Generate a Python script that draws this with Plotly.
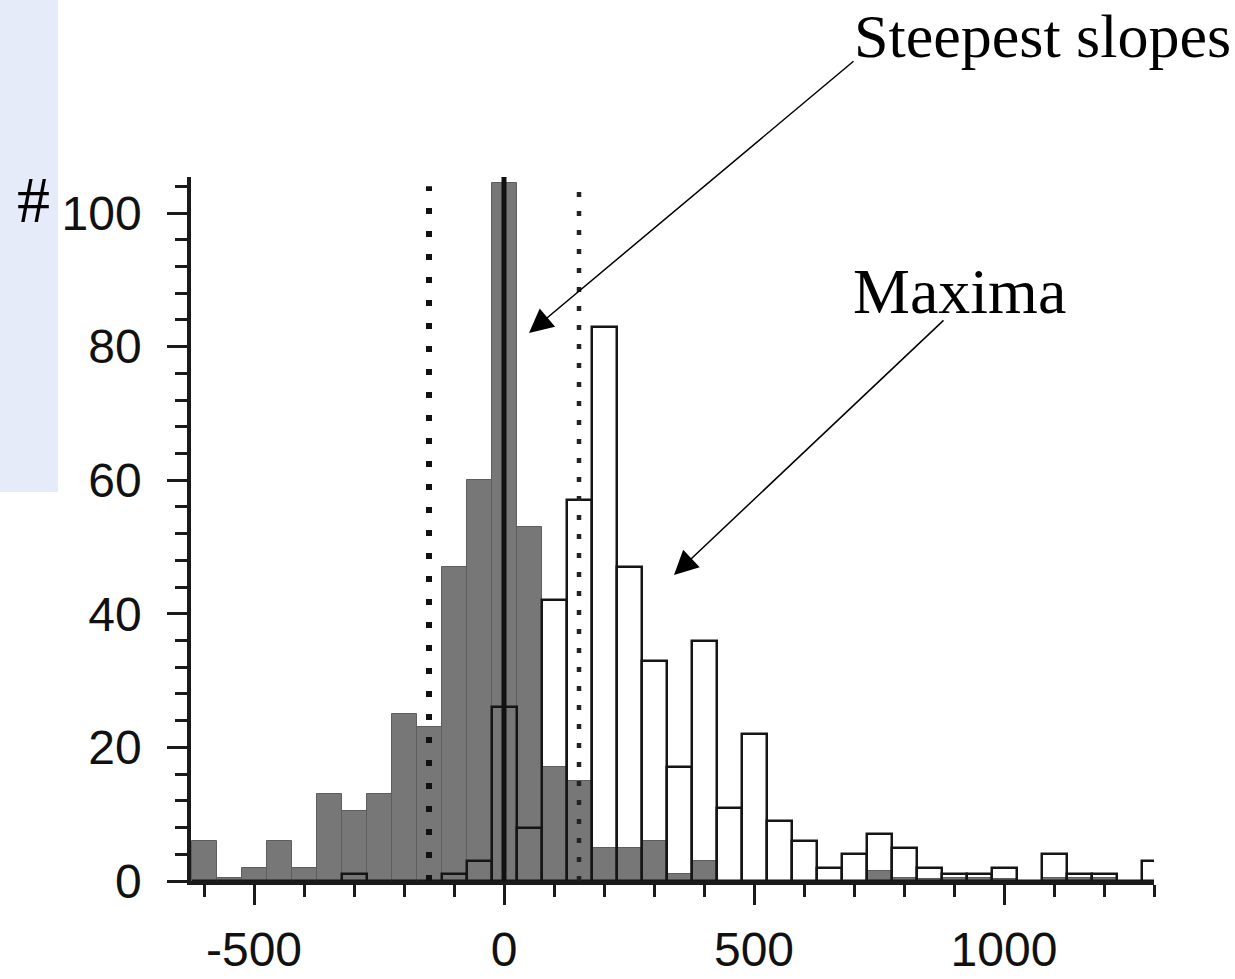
import plotly.graph_objects as go

# ---- data (bin centres, bin width 50) ----
bin_centers = list(range(-600, 1301, 50))
steepest_slopes = [6, 0.5, 2, 6, 2, 13, 10.5, 13, 25, 23, 47, 60, 104.5, 53, 17, 15,
                   5, 5, 6, 1, 3, 0, 0, 0, 0, 0, 0, 1.5, 0.5, 0.3, 0.5, 0.5, 0.3, 0,
                   0.5, 0.5, 0.5, 0, 0]
maxima = [0, 0, 0, 0, 0, 0, 1, 0, 0, 0, 1, 3, 26, 8, 42, 57,
          83, 47, 33, 17, 36, 11, 22, 9, 6, 2, 4, 7, 5, 2, 1, 1, 2, 0,
          4, 1, 1, 0, 3]
threshold_lines = [-150, 150]
centre_line = 0
x_ticks = [-500, 0, 500, 1000]
y_ticks = [0, 20, 40, 60, 80, 100]

X_RANGE = [-626, 1300]
Y_RANGE = [0, 105.4]
L, R, T, B = 191, 81, 177, 98
W, H = 1235, 979
PW, PH = W - L - R, H - T - B


def px_x(px):
    return (px - L) / PW


def px_y(py):
    return (H - B - py) / PH


def dx(px):
    return X_RANGE[0] + (px - L) / PW * (X_RANGE[1] - X_RANGE[0])


def dy(py):
    return (H - B - py) / PH * (Y_RANGE[1] - Y_RANGE[0])


fig = go.Figure()
fig.add_trace(go.Bar(x=bin_centers, y=steepest_slopes, width=50,
                     marker=dict(color="#777777", line=dict(color="#5e5e5e", width=1)),
                     name="Steepest slopes"))
fig.add_trace(go.Bar(x=bin_centers, y=maxima, width=50,
                     marker=dict(color="rgba(255,255,255,0)", line=dict(color="#151515", width=2.5)),
                     name="Maxima"))

shapes = []
# light blue panel at the left
shapes.append(dict(type="rect", xref="paper", yref="paper",
                   x0=px_x(0), x1=px_x(58), y0=px_y(492), y1=px_y(-5),
                   fillcolor="#E6EBFA", line=dict(width=0), layer="below"))
# dotted threshold lines
shapes.append(dict(type="line", xref="x", yref="y", x0=threshold_lines[0], x1=threshold_lines[0],
                   y0=0, y1=104, line=dict(color="#111111", width=6, dash="6px,17px")))
shapes.append(dict(type="line", xref="x", yref="y", x0=threshold_lines[1], x1=threshold_lines[1],
                   y0=0, y1=104, line=dict(color="#222222", width=4.5, dash="5px,14px")))
# solid centre line
shapes.append(dict(type="line", xref="x", yref="y", x0=centre_line, x1=centre_line,
                   y0=0, y1=105.4, line=dict(color="#111111", width=5)))

annotations = [
    dict(text="Steepest slopes", xref="paper", yref="paper", x=px_x(852), y=px_y(36),
         xanchor="left", yanchor="middle", showarrow=False,
         font=dict(family="Liberation Serif", size=62, color="black")),
    dict(text="Maxima", xref="paper", yref="paper", x=px_x(851), y=px_y(291),
         xanchor="left", yanchor="middle", showarrow=False,
         font=dict(family="Liberation Serif", size=64, color="black")),
    dict(text="#", xref="paper", yref="paper", x=px_x(33), y=px_y(199),
         xanchor="center", yanchor="middle", showarrow=False,
         font=dict(family="Liberation Serif", size=66, color="black")),
    dict(text="", x=dx(529), y=dy(333), ax=dx(855), ay=dy(60), xref="x", yref="y",
         axref="x", ayref="y", showarrow=True, arrowhead=2, arrowsize=3.2,
         arrowwidth=1.5, arrowcolor="black"),
    dict(text="", x=dx(674), y=dy(575), ax=dx(945), ay=dy(319), xref="x", yref="y",
         axref="x", ayref="y", showarrow=True, arrowhead=2, arrowsize=3.2,
         arrowwidth=1.5, arrowcolor="black"),
]

fig.update_layout(
    width=W, height=H,
    margin=dict(l=L, r=R, t=T, b=B, pad=0, autoexpand=False),
    paper_bgcolor="white", plot_bgcolor="white",
    barmode="overlay", bargap=0, showlegend=False,
    shapes=shapes, annotations=annotations,
)
fig.update_xaxes(range=X_RANGE, tickvals=x_ticks, ticktext=[str(v) for v in x_ticks],
                 ticks="outside", ticklen=20, tickwidth=3, tickcolor="#1a1a1a",
                 showline=True, linewidth=3.5, linecolor="#1a1a1a", showgrid=False,
                 zeroline=False, ticklabelstandoff=4, automargin=False,
                 tickfont=dict(family="Liberation Sans", size=48, color="#111111"),
                 minor=dict(dtick=100, tick0=0, ticks="outside", ticklen=12, tickwidth=3,
                            tickcolor="#1a1a1a", showgrid=False))
fig.update_yaxes(range=Y_RANGE, tickvals=y_ticks, ticktext=[str(v) for v in y_ticks],
                 ticks="outside", ticklen=20, tickwidth=3, tickcolor="#1a1a1a",
                 showline=True, linewidth=3.5, linecolor="#1a1a1a", showgrid=False,
                 zeroline=False, ticklabelstandoff=16, automargin=False,
                 tickfont=dict(family="Liberation Sans", size=48, color="#111111"),
                 minor=dict(dtick=4, tick0=0, ticks="outside", ticklen=12, tickwidth=3,
                            tickcolor="#1a1a1a", showgrid=False))

fig.write_html("out.html")
